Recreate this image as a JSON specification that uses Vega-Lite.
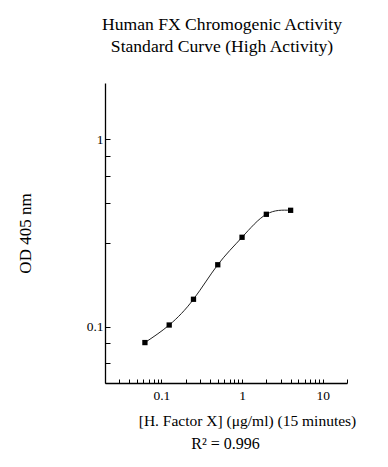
{
  "$schema": "https://vega.github.io/schema/vega-lite/v6.json",
  "autosize": "none",
  "width": 242,
  "height": 300,
  "padding": {"left": 105, "top": 83, "right": 41, "bottom": 84},
  "background": "white",
  "config": {
    "view": {"stroke": null},
    "font": "Liberation Serif",
    "axis": {
      "domainColor": "black",
      "domainWidth": 1.3,
      "tickColor": "black",
      "tickWidth": 1,
      "labelColor": "black",
      "titleColor": "black",
      "labelFont": "Liberation Serif",
      "titleFont": "Liberation Serif",
      "titleFontWeight": "normal",
      "grid": false
    }
  },
  "title": {
    "text": ["Human FX Chromogenic Activity", "Standard Curve (High Activity)"],
    "font": "Liberation Serif",
    "fontSize": 17.6,
    "fontWeight": "normal",
    "color": "black",
    "lineHeight": 22,
    "anchor": "middle",
    "offset": 27,
    "dx": -4
  },
  "data": {
    "values": [
      {"conc": 0.0625, "od": 0.0822},
      {"conc": 0.125, "od": 0.102},
      {"conc": 0.25, "od": 0.140},
      {"conc": 0.5, "od": 0.214},
      {"conc": 1, "od": 0.300},
      {"conc": 2, "od": 0.398},
      {"conc": 4, "od": 0.418}
    ]
  },
  "encoding": {
    "y": {
      "field": "od",
      "type": "quantitative",
      "scale": {"type": "log", "domain": [0.05, 2], "nice": false},
      "axis": {
        "values": [0.064, 0.082, 0.1, 0.28, 0.46, 0.64, 0.82, 1],
        "labelExpr": "datum.value == 0.1 ? '0.1' : datum.value == 1 ? '1' : ''",
        "tickSize": -5,
        "labelPadding": 7,
        "labelFontSize": 13.5,
        "labelFlush": false,
        "labelOverlap": false,
        "title": "OD 405 nm",
        "titleFontSize": 17,
        "titlePadding": 52
      }
    }
  },
  "layer": [
    {
      "mark": {"type": "line", "interpolate": "natural", "color": "#222222", "strokeWidth": 1},
      "encoding": {
        "x": {
          "field": "conc",
          "type": "quantitative",
          "scale": {"type": "log", "domain": [0.02, 20], "nice": false},
          "axis": {
            "orient": "bottom",
            "values": [0.02, 0.03, 0.04, 0.05, 0.06, 0.07, 0.08, 0.09, 0.1, 0.2, 0.3, 0.4, 0.5, 0.6, 0.7, 0.8, 0.9, 1, 2, 3, 4, 5, 6, 7, 8, 9, 10, 20],
            "labelExpr": "datum.value == 0.1 ? '0.1' : datum.value == 1 ? '1' : datum.value == 10 ? '10' : ''",
            "tickSize": -4,
            "labelPadding": 9,
            "labelFontSize": 13.5,
            "labelFlush": false,
            "labelOverlap": false,
            "title": "[H. Factor X] (μg/ml) (15 minutes)",
            "titleFontSize": 15.5,
            "titleBaseline": "alphabetic",
            "titleX": 142,
            "titleY": 42,
            "titleAnchor": "middle"
          }
        }
      }
    },
    {
      "mark": {"type": "point", "shape": "square", "filled": true, "color": "black", "size": 28, "opacity": 1},
      "encoding": {
        "x": {
          "field": "conc",
          "type": "quantitative",
          "axis": {
            "orient": "bottom",
            "domain": false,
            "ticks": false,
            "labels": false,
            "title": "R² = 0.996",
            "titleFontSize": 16,
            "titleBaseline": "alphabetic",
            "titleX": 120,
            "titleY": 65,
            "titleAnchor": "middle"
          }
        }
      }
    }
  ],
  "resolve": {"axis": {"x": "independent"}}
}
